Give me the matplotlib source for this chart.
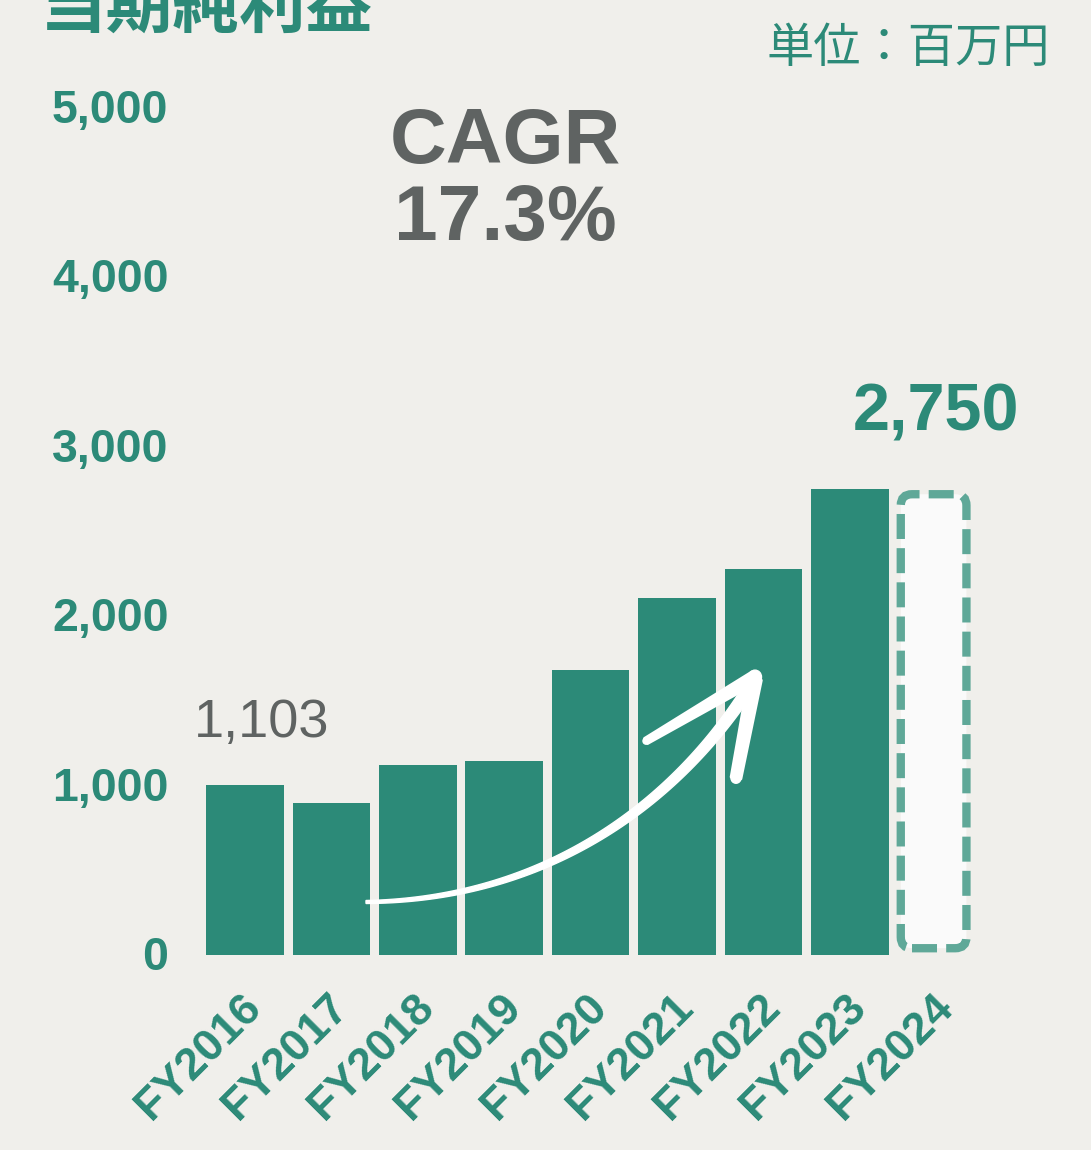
import numpy as np
import matplotlib
matplotlib.use("Agg")
import matplotlib.pyplot as plt
from matplotlib.patches import Polygon, FancyBboxPatch
from matplotlib.transforms import ScaledTranslation

# ---------------- data ----------------
categories = ["FY2016", "FY2017", "FY2018", "FY2019", "FY2020",
              "FY2021", "FY2022", "FY2023", "FY2024"]
actual_values = [1003, 900, 1120, 1143, 1680, 2105, 2280, 2750]   # FY2016-FY2023
forecast_value = 2750                                              # FY2024 (dashed)
y_ticks = [0, 1000, 2000, 3000, 4000, 5000]
y_tick_labels = ["0", "1,000", "2,000", "3,000", "4,000", "5,000"]
title_text = "当期純利益"
unit_text = "単位：百万円"
cagr_lines = ["CAGR", "17.3%"]
start_label = "1,103"
end_label = "2,750"

# ---------------- style ----------------
W, H = 1091, 1150
DPI = 100
BG = "#f0efeb"
GREEN = "#2c8a78"
DASH = "#5fa898"
GRAY = "#5f6362"
NUM_FONT = ["Liberation Sans", "DejaVu Sans"]
CJK_FONT = ["Noto Sans CJK JP", "DejaVu Sans"]

fig = plt.figure(figsize=(W / DPI, H / DPI), dpi=DPI, facecolor=BG)


def px(x, y):
    return (x / W, 1 - y / H)


ax_left, ax_right = 201.8, 979.4
ax_bottom, ax_top = 955.0, 108.0
ax = fig.add_axes([ax_left / W, 1 - ax_bottom / H,
                   (ax_right - ax_left) / W, (ax_bottom - ax_top) / H])
ax.set_facecolor(BG)
ax.patch.set_alpha(0)

x = np.arange(len(categories))
ax.bar(x[:len(actual_values)], actual_values, width=0.9, color=GREEN,
       linewidth=0, zorder=2)

# forecast bar: dashed rounded outline, derived from the bar geometry
fx = x[len(actual_values)]
bw = 0.76
inset_top = 30
inset_bot = 40
px_per_x = (ax_right - ax_left) / len(categories)
px_per_y = (ax_bottom - ax_top) / 5000
box = FancyBboxPatch((fx - bw / 2 - 0.03, inset_bot), bw, forecast_value - inset_top - inset_bot,
                     boxstyle="round,pad=0,rounding_size=0.13",
                     mutation_aspect=px_per_x / px_per_y,
                     facecolor="#fafafa", edgecolor=DASH, linewidth=6,
                     linestyle=(0, (3, 1.1)), zorder=2)
ax.add_patch(box)

ax.set_xlim(-0.5, len(categories) - 0.5)
ax.set_ylim(0, 5000)
for s in ax.spines.values():
    s.set_visible(False)

ax.set_yticks(y_ticks)
ax.set_yticklabels(y_tick_labels, fontsize=33.5, fontweight="bold",
                   color=GREEN, family=NUM_FONT)
ax.tick_params(axis="y", length=0, pad=24)
yoff = ScaledTranslation(0, 2 / DPI, fig.dpi_scale_trans)
for lab in ax.get_yticklabels():
    lab.set_transform(lab.get_transform() + yoff)

ax.set_xticks(x)
ax.set_xticklabels(categories, fontsize=32.5, fontweight="bold", color=GREEN,
                   family=NUM_FONT, rotation=45, ha="right", va="center",
                   rotation_mode="anchor")
ax.tick_params(axis="x", length=0, pad=0)
off = ScaledTranslation(10 / DPI, -46 / DPI, fig.dpi_scale_trans)
for lab in ax.get_xticklabels():
    lab.set_transform(lab.get_transform() + off)

# ---------------- texts ----------------
fig.text(*px(40, 28), title_text, fontsize=48, fontweight="bold",
         color=GREEN, family=CJK_FONT, ha="left", va="baseline")
fig.text(*px(1050, 62), unit_text, fontsize=34, color=GREEN,
         family=CJK_FONT, ha="right", va="baseline")
fig.text(*px(505, 163), cagr_lines[0], fontsize=56.5, fontweight="bold",
         color=GRAY, family=NUM_FONT, ha="center", va="baseline")
fig.text(*px(505, 240), cagr_lines[1], fontsize=56.5, fontweight="bold",
         color=GRAY, family=NUM_FONT, ha="center", va="baseline")
fig.text(*px(194, 737), start_label, fontsize=39, color=GRAY,
         family=NUM_FONT, ha="left", va="baseline")
ax.annotate(end_label, (fx, forecast_value), xytext=(0, 42),
            textcoords="offset points", fontsize=48, fontweight="bold",
            color=GREEN, family=NUM_FONT, ha="center", va="baseline")


# ---------------- decorative hand-drawn arrow ----------------
def bez(p, n=80):
    p = np.asarray(p, float)
    t = np.linspace(0, 1, n)[:, None]
    if len(p) == 4:
        return ((1 - t) ** 3 * p[0] + 3 * (1 - t) ** 2 * t * p[1]
                + 3 * (1 - t) * t ** 2 * p[2] + t ** 3 * p[3])
    return p[0] * (1 - t) + p[1] * t


def taper(pts, w0, w1):
    pts = np.asarray(pts, float)
    d = np.gradient(pts, axis=0)
    d /= np.linalg.norm(d, axis=1)[:, None]
    nrm = np.column_stack([-d[:, 1], d[:, 0]])
    w = np.linspace(w0, w1, len(pts))[:, None] / 2
    left = pts + nrm * w
    right = pts - nrm * w
    poly = np.vstack([left, right[::-1]])
    return [px(a, b) for a, b in poly]


shaft = bez([(366, 902), (540, 900), (670, 810), (748, 690)])
fig.patches.append(Polygon(taper(shaft, 3, 12), closed=True, transform=fig.transFigure,
                           facecolor="white", edgecolor="white", linewidth=1, zorder=5))
barb1 = bez([(646, 741), (755, 677)], 20)
fig.patches.append(Polygon(taper(barb1, 6, 12), closed=True, transform=fig.transFigure,
                           facecolor="white", edgecolor="white", linewidth=2,
                           joinstyle="round", zorder=5))
barb2 = bez([(736, 778), (755, 679)], 20)
fig.patches.append(Polygon(taper(barb2, 10, 13), closed=True, transform=fig.transFigure,
                           facecolor="white", edgecolor="white", linewidth=2,
                           joinstyle="round", zorder=5))
for (a, b), r in [((755, 677), 6.5), ((736, 778), 5), ((646, 741), 3)]:
    c = plt.Circle(px(a, b), r / W, transform=fig.transFigure, color="white", zorder=5)
    fig.patches.append(c)

fig.savefig("out.png", dpi=DPI, facecolor=BG)
